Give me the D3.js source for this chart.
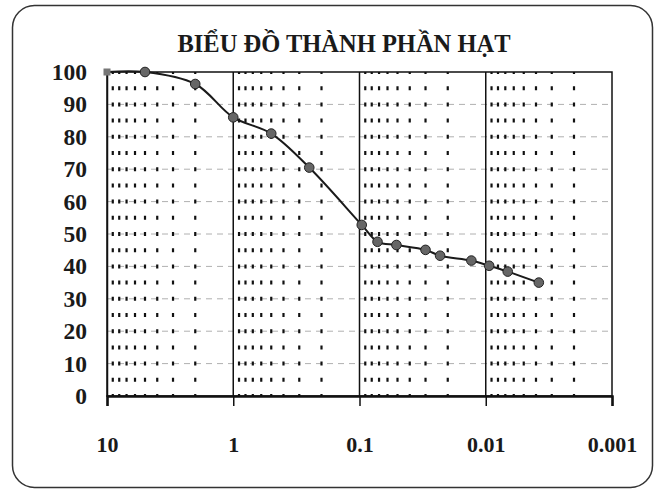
<!DOCTYPE html>
<html lang="vi">
<head>
    <meta charset="UTF-8">
    <title>Biểu đồ thành phần hạt</title>
    <script src="https://cdnjs.cloudflare.com/ajax/libs/d3/7.8.5/d3.min.js"></script>
    <style>
        body { margin: 0; background: #fff; }
        svg { display: block; }
    </style>
</head>
<body>
    <div id="chart"></div>

    <script>
        // Grain size (mm) and percent finer
        const grainSize = [10, 5, 2, 1, 0.5, 0.25, 0.096, 0.072, 0.051, 0.030, 0.023, 0.013, 0.0094, 0.0067, 0.0038];
        const percentFiner = [100, 100, 96.3, 86, 81, 70.5, 52.8, 47.6, 46.6, 45.1, 43.3, 41.8, 40.2, 38.4, 35];

        // Axis ticks
        const xTicks = [10, 1, 0.1, 0.01, 0.001];
        const xTickLabels = ["10", "1", "0.1", "0.01", "0.001"];
        const yTicks = [0, 10, 20, 30, 40, 50, 60, 70, 80, 90, 100];
        const minorSteps = [2, 3, 4, 5, 6, 7, 8, 9];
        const decades = [1, 0.1, 0.01, 0.001];

        const title = "BIỂU ĐỒ THÀNH PHẦN HẠT";

        const serif = '"Liberation Serif", "DejaVu Serif", "Times New Roman", serif';

        const width = 658;
        const height = 490;
        const plot = { left: 107, right: 612, top: 72, bottom: 396 };

        const svg = d3.select("#chart").append("svg")
            .attr("width", width)
            .attr("height", height);

        // Rounded outer frame
        svg.append("rect")
            .attr("x", 12.5).attr("y", 5.5)
            .attr("width", 640).attr("height", 482)
            .attr("rx", 22).attr("ry", 22)
            .attr("fill", "#fff")
            .attr("stroke", "#333")
            .attr("stroke-width", 1.5);

        const x = d3.scaleLog()
            .domain([10, 0.001])
            .range([plot.left, plot.right]);

        const y = d3.scaleLinear()
            .domain([0, 100])
            .range([plot.bottom, plot.top]);

        // Title
        svg.append("text")
            .attr("x", 344)
            .attr("y", 52)
            .attr("text-anchor", "middle")
            .style("font-family", serif)
            .style("font-weight", "bold")
            .style("font-size", "24.5px")
            .style("fill", "#1a1a1a")
            .text(title);

        // Horizontal dashed gridlines
        svg.append("g")
            .selectAll("line")
            .data(yTicks.filter(d => d > 0 && d < 100))
            .enter().append("line")
            .attr("x1", plot.left).attr("x2", plot.right)
            .attr("y1", d => y(d)).attr("y2", d => y(d))
            .attr("stroke", "#b0b0b0")
            .attr("stroke-width", 1)
            .attr("stroke-dasharray", "6,5");

        // Minor vertical dotted lines (2..9 in each decade)
        const minorVals = [];
        decades.forEach(dec => minorSteps.forEach(m => minorVals.push(m * dec)));
        const step = (y(0) - y(5));
        svg.append("g")
            .selectAll("line")
            .data(minorVals)
            .enter().append("line")
            .attr("x1", d => x(d)).attr("x2", d => x(d))
            .attr("y1", plot.top).attr("y2", plot.bottom)
            .attr("stroke", "#111")
            .attr("stroke-width", 2.2)
            .attr("stroke-dasharray", `4,${step - 4}`)
            .attr("stroke-dashoffset", 2);

        // Major (decade) vertical lines
        svg.append("g")
            .selectAll("line")
            .data(xTicks.slice(1, -1))
            .enter().append("line")
            .attr("x1", d => x(d)).attr("x2", d => x(d))
            .attr("y1", plot.top).attr("y2", plot.bottom)
            .attr("stroke", "#111")
            .attr("stroke-width", 1.5);

        // Plot border
        svg.append("rect")
            .attr("x", plot.left).attr("y", plot.top)
            .attr("width", plot.right - plot.left)
            .attr("height", plot.bottom - plot.top)
            .attr("fill", "none")
            .attr("stroke", "#111")
            .attr("stroke-width", 1.5);

        // x axis (ticks point down, labels lower)
        const xAxis = svg.append("g")
            .attr("transform", `translate(0,${plot.bottom})`)
            .call(d3.axisBottom(x)
                .tickValues(xTicks)
                .tickFormat((d, i) => xTickLabels[i])
                .tickSize(10)
                .tickPadding(30));
        xAxis.attr("font-family", null).attr("font-size", null);
        xAxis.select(".domain").attr("stroke", "#111").attr("stroke-width", 2.5);
        xAxis.selectAll(".tick line").attr("stroke", "#111").attr("stroke-width", 1.5);
        xAxis.selectAll(".tick text")
            .style("font-family", serif)
            .style("font-weight", "bold")
            .style("font-size", "22px")
            .style("fill", "#1a1a1a");

        // y axis labels
        const yAxis = svg.append("g")
            .attr("transform", `translate(${plot.left},0)`)
            .call(d3.axisLeft(y)
                .tickValues(yTicks)
                .tickSize(0)
                .tickPadding(20));
        yAxis.attr("font-family", null).attr("font-size", null);
        yAxis.select(".domain").attr("stroke", "#111").attr("stroke-width", 1.5);
        yAxis.selectAll(".tick text")
            .style("font-family", serif)
            .style("font-weight", "bold")
            .style("font-size", "23.5px")
            .style("fill", "#1a1a1a");

        // Curve
        const pts = grainSize.map((d, i) => [x(d), y(percentFiner[i])]);
        svg.append("path")
            .datum(pts)
            .attr("d", d3.line().curve(d3.curveCatmullRom.alpha(0.5)))
            .attr("fill", "none")
            .attr("stroke", "#1a1a1a")
            .attr("stroke-width", 2);

        // Markers (first one is square)
        svg.append("rect")
            .attr("x", pts[0][0] - 3.5).attr("y", pts[0][1] - 3.5)
            .attr("width", 7).attr("height", 7)
            .attr("fill", "#777");

        svg.append("g")
            .selectAll("circle")
            .data(pts.slice(1))
            .enter().append("circle")
            .attr("cx", d => d[0])
            .attr("cy", d => d[1])
            .attr("r", 4.8)
            .attr("fill", "#666")
            .attr("stroke", "#222")
            .attr("stroke-width", 1);
    </script>
</body>
</html>
